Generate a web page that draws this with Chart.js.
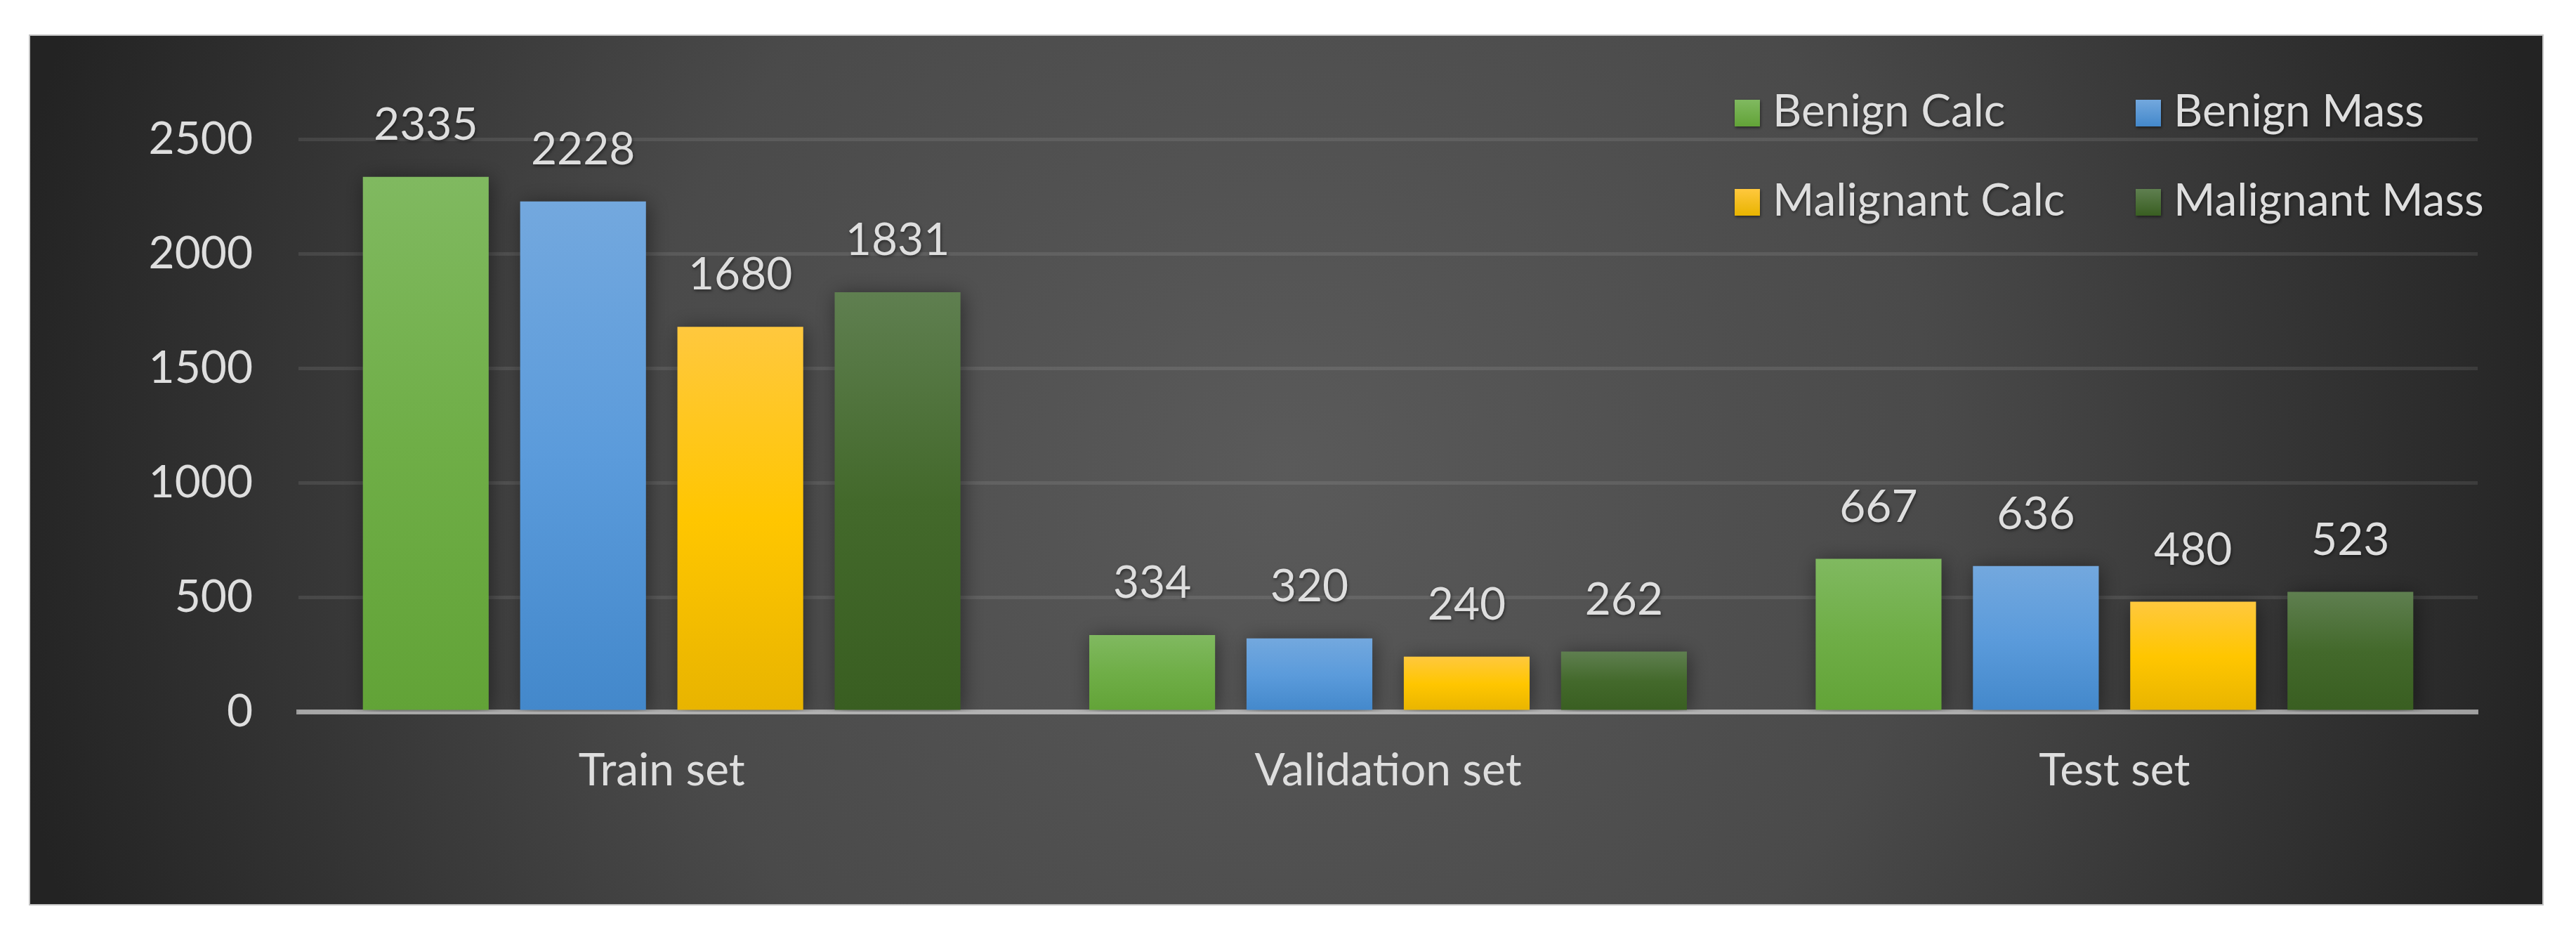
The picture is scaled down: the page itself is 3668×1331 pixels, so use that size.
<!DOCTYPE html>
<html>
<head>
<meta charset="utf-8">
<script src="https://cdn.jsdelivr.net/npm/chart.js@4.4.1/dist/chart.umd.min.js"></script>
<style>
  html, body { margin: 0; padding: 0; background: #fff; overflow: hidden; }
  canvas { display: block; }
</style>
</head>
<body>
<canvas id="chart" width="3668" height="1331"></canvas>
<script>
// chart data
var categories = ['Train set', 'Validation set', 'Test set'];
var seriesNames = ['Benign Calc', 'Benign Mass', 'Malignant Calc', 'Malignant Mass'];
var benignCalc = [2335, 334, 667];
var benignMass = [2228, 320, 636];
var malignantCalc = [1680, 240, 480];
var malignantMass = [1831, 262, 523];
var yMin = 0, yMax = 2500, yStep = 500;

// bar colors: top, middle, bottom of the gradient
var barColors = [
    ['#80b960', '#6fae47', '#62a337'],
    ['#73a8de', '#5b9bdb', '#4388cb'],
    ['#ffc83e', '#ffc600', '#e8b400'],
    ['#5f7f50', '#43692b', '#395e21']
];
var textColor = '#dedede';
var fontFamily = 'Lato, "Open Sans", sans-serif';
var fontSize = 64;

function barFill(i) {
    return function (c) {
        var chart = c.chart;
        var col = barColors[i];
        if (!chart.chartArea || c.raw === undefined) return col[1];
        var y = chart.scales.y;
        var top = y.getPixelForValue(c.raw);
        var bottom = y.getPixelForValue(0);
        if (bottom - top < 1) return col[1];
        var g = chart.ctx.createLinearGradient(0, top, 0, bottom);
        g.addColorStop(0, col[0]);
        g.addColorStop(0.5, col[1]);
        g.addColorStop(1, col[2]);
        return g;
    };
}

var panelPlugin = {
    id: 'panel',
    beforeDraw: function (chart) {
        var ctx = chart.ctx;
        var x0 = 42, y0 = 50, x1 = 3621, y1 = 1288;
        var cx = (x0 + x1) / 2, cy = (y0 + y1) / 2;
        ctx.save();
        ctx.fillStyle = '#ffffff';
        ctx.fillRect(0, 0, chart.width, chart.height);
        var g = ctx.createRadialGradient(cx, cy, 0, cx, cy, 1850);
        g.addColorStop(0, '#5a5a5a');
        g.addColorStop(0.5, '#4a4a4a');
        g.addColorStop(1, '#232323');
        ctx.fillStyle = g;
        ctx.fillRect(x0, y0, x1 - x0, y1 - y0);
        ctx.strokeStyle = '#c4c4c4';
        ctx.lineWidth = 2;
        ctx.strokeRect(x0, y0, x1 - x0, y1 - y0);
        ctx.restore();
    },
    beforeDatasetsDraw: function (chart) {
        var ctx = chart.ctx;
        ctx.save();
        ctx.shadowColor = 'rgba(0,0,0,0.45)';
        ctx.shadowBlur = 28;
        ctx.shadowOffsetX = 3;
        ctx.shadowOffsetY = 3;
    },
    afterDatasetsDraw: function (chart) {
        chart.ctx.restore();
    },
    afterDraw: function (chart) {
        var ctx = chart.ctx;
        ctx.save();
        ctx.font = fontSize + 'px ' + fontFamily;
        ctx.fillStyle = textColor;
        ctx.shadowColor = 'rgba(0,0,0,0.5)';
        ctx.shadowBlur = 4;
        ctx.shadowOffsetX = 1;
        ctx.shadowOffsetY = 2;
        // value labels
        ctx.textAlign = 'center';
        ctx.textBaseline = 'alphabetic';
        chart.data.datasets.forEach(function (ds, i) {
            var meta = chart.getDatasetMeta(i);
            meta.data.forEach(function (bar, j) {
                ctx.fillText(String(ds.data[j]), bar.x, bar.y - 53);
            });
        });
        // legend, two columns
        var colX = [2470, 3041];
        var rowY = [180, 307];
        ctx.textAlign = 'left';
        chart.data.datasets.forEach(function (ds, i) {
            var x = colX[i % 2], y = rowY[Math.floor(i / 2)];
            var g = ctx.createLinearGradient(0, y - 38, 0, y);
            g.addColorStop(0, barColors[i][0]);
            g.addColorStop(1, barColors[i][2]);
            ctx.fillStyle = g;
            ctx.fillRect(x, y - 38, 36, 38);
            ctx.fillStyle = textColor;
            ctx.fillText(ds.label, x + 54, y);
        });
        ctx.restore();
    }
};

var seriesData = [benignCalc, benignMass, malignantCalc, malignantMass];
var datasets = seriesNames.map(function (name, i) {
    return {
        label: name,
        data: seriesData[i],
        backgroundColor: barFill(i),
        borderWidth: 0,
        categoryPercentage: 0.866,
        barPercentage: 0.80
    };
});

var ctx = document.getElementById('chart');
var myChart = new Chart(ctx, {
    type: 'bar',
    data: { labels: categories, datasets: datasets },
    plugins: [panelPlugin],
    options: {
        responsive: false,
        animation: false,
        events: [],
        layout: { padding: { top: 198, right: 140, left: 0, bottom: 0 } },
        plugins: {
            legend: { display: false },
            tooltip: { enabled: false }
        },
        scales: {
            x: {
                z: 1,
                grid: { display: false, drawTicks: false },
                border: { display: true, color: 'rgba(255,255,255,0.52)', width: 7 },
                ticks: {
                    color: textColor,
                    font: { family: fontFamily, size: fontSize },
                    padding: 46
                },
                afterFit: function (scale) { scale.height = 318; }
            },
            y: {
                min: yMin,
                max: yMax,
                grid: { color: 'rgba(255,255,255,0.09)', lineWidth: 5, drawTicks: false },
                border: { display: false },
                ticks: {
                    stepSize: yStep,
                    color: textColor,
                    font: { family: fontFamily, size: fontSize },
                    padding: 65,
                    callback: function (v) { return String(v); }
                },
                afterFit: function (scale) { scale.width = 425; }
            }
        }
    }
});
</script>
</body>
</html>
